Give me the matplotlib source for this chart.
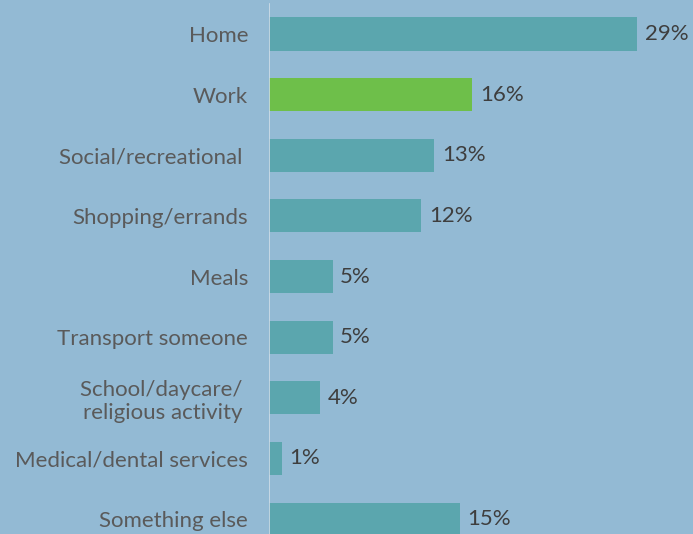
import matplotlib.pyplot as plt

# trip purpose shares
categories = ['Home', 'Work', 'Social/recreational ', 'Shopping/errands', 'Meals',
              'Transport someone', 'School/daycare/ \nreligious activity ',
              'Medical/dental services', 'Something else']
shares = [29, 16, 13, 12, 5, 5, 4, 1, 15]
highlight = 'Work'

bg = '#93bad4'
teal = '#5ba6ae'
green = '#6ebf4a'

plt.rcParams['font.family'] = ['Lato', 'DejaVu Sans']

fig = plt.figure(figsize=(6.93, 5.34), dpi=100, facecolor=bg)
ax = fig.add_axes([269 / 693, 0, 424 / 693, 1])
ax.set_facecolor(bg)

colors = [green if c.strip() == highlight else teal for c in categories]
ypos = list(range(len(categories)))
ax.barh(ypos, shares, height=0.545, color=colors)

for y, v in zip(ypos, shares):
    ax.text(v + 0.6, y, f'{v}%', va='center', ha='left', fontsize=16, color='#3e3e3e')

ax.set_xlim(0, 424 / 12.7)
ax.set_ylim(8.247, -0.561)
ax.set_yticks(ypos)
ax.set_yticklabels(categories, fontsize=16, color='#5a5a5a', multialignment='right',
                   linespacing=1.2)
ax.tick_params(axis='y', length=0, pad=15)
ax.set_xticks([])
for s in ax.spines.values():
    s.set_visible(False)
ax.axvline(0, ymin=0, ymax=1 - 4 / 534, color='#d0dde8', lw=1.2)

fig.savefig('out.png', facecolor=bg)
